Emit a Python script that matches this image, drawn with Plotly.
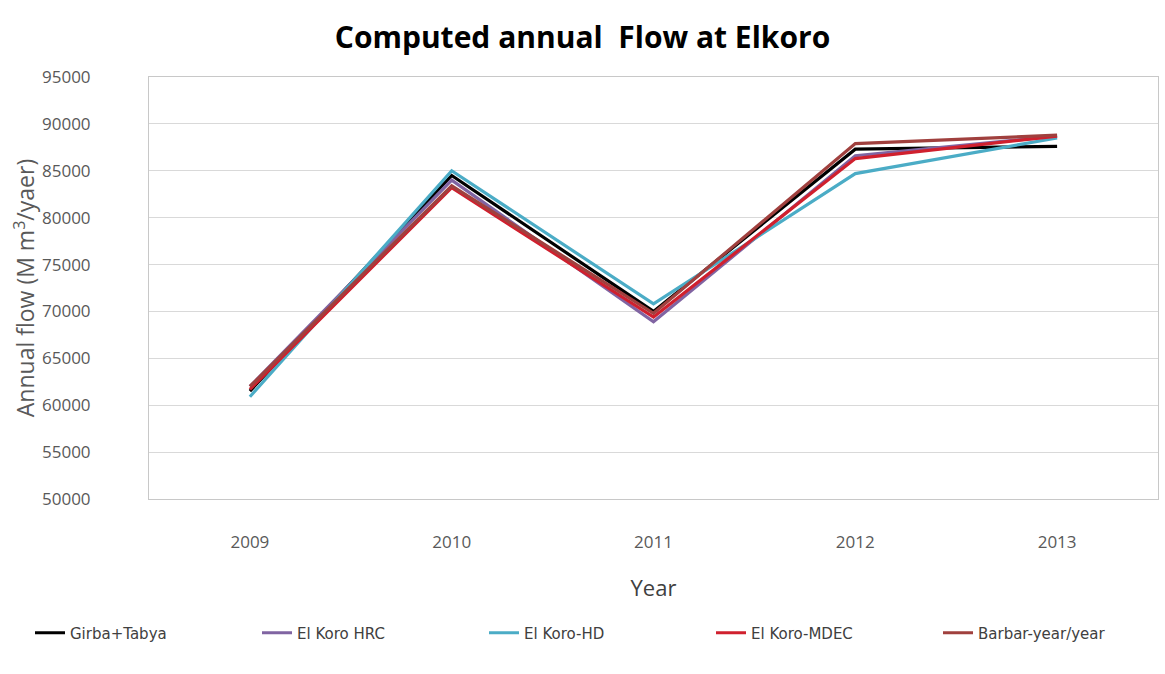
import plotly.graph_objects as go

years = ["2009", "2010", "2011", "2012", "2013"]

girba_tabya = [61500, 84500, 70000, 87300, 87600]
el_koro_hrc = [62000, 84000, 68900, 86600, 88700]
el_koro_hd = [60900, 85000, 70800, 84700, 88500]
el_koro_mdec = [61700, 83200, 69400, 86300, 88700]
barbar_year = [62000, 83400, 69800, 87900, 88800]

series = [
    ("Girba+Tabya", girba_tabya, "#000000"),
    ("El Koro HRC", el_koro_hrc, "#8064A2"),
    ("El Koro-HD", el_koro_hd, "#4BACC6"),
    ("El Koro-MDEC", el_koro_mdec, "#D0202E"),
    ("Barbar-year/year", barbar_year, "#A0403E"),
]

x_idx = list(range(len(years)))

fig = go.Figure()
for name, vals, color in series:
    fig.add_trace(go.Scatter(
        x=x_idx, y=vals, name=name, mode="lines",
        line=dict(color=color, width=3.2),
    ))

tick_font = dict(family="Open Sans", size=17, color="#595959")

fig.update_layout(
    width=1165, height=674,
    margin=dict(l=149, r=7, t=77, b=175),
    paper_bgcolor="white", plot_bgcolor="white",
    title=dict(
        text="<b>Computed annual  Flow at Elkoro</b>",
        x=0.5, xanchor="center", y=1 - 37 / 674, yanchor="middle",
        font=dict(family="Open Sans", size=30, color="#000000"),
    ),
    xaxis=dict(
        range=[-0.5, 4.5], tickmode="array", tickvals=x_idx, ticktext=years,
        showgrid=False, zeroline=False, ticks="",
        showline=True, linecolor="#C8C8C8", linewidth=1, mirror=True,
        tickfont=tick_font, ticklabelstandoff=28,
        title=dict(text="Year", font=dict(family="Open Sans", size=22, color="#404040"),
                   standoff=28),
    ),
    yaxis=dict(
        range=[50000, 95000], dtick=5000, tickformat="d",
        showgrid=True, gridcolor="#D9D9D9", gridwidth=1, zeroline=False, ticks="",
        showline=True, linecolor="#C8C8C8", linewidth=1, mirror=True,
        tickfont=tick_font, ticklabelstandoff=54,
        title=dict(text="Annual flow (M m<sup>3</sup>/yaer)",
                   font=dict(family="Open Sans", size=23, color="#595959"),
                   standoff=0),
    ),
    legend=dict(
        orientation="h", x=(45 - 149) / 1009, xanchor="left",
        y=(499 - 633) / 422, yanchor="middle",
        font=dict(family="DejaVu Sans", size=15, color="#404040"),
        entrywidth=182, entrywidthmode="pixels",
    ),
    showlegend=True,
)

fig.write_html("out.html")
